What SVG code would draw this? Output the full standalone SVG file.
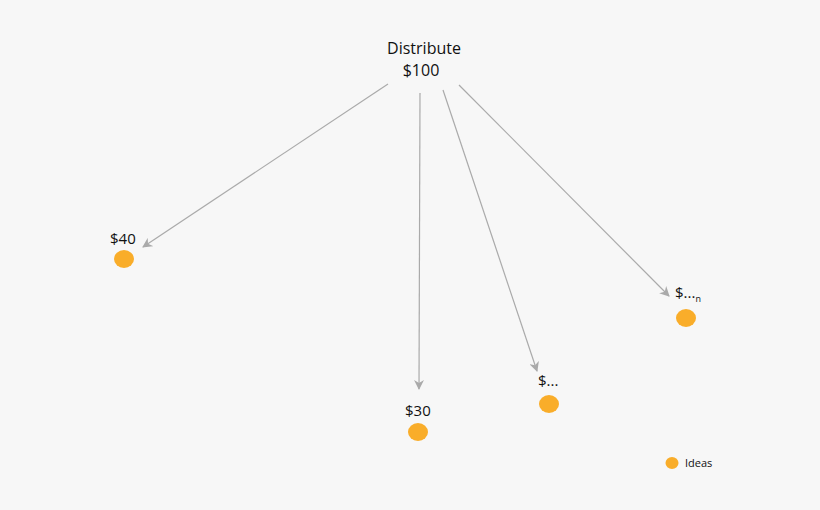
<svg xmlns="http://www.w3.org/2000/svg" width="820" height="510" viewBox="0 0 820 510">
<defs>
<style>
.t{font-family:"Open Sans","Noto Sans",sans-serif;fill:#111;}
.lbl{font-size:15px;}
.dot{fill:#f9ad2a;}
.c line{stroke:#aaa;stroke-width:1.2;fill:none;}
</style>
<marker id="ah" viewBox="0 0 10 10" refX="9" refY="5" markerWidth="10" markerHeight="10" markerUnits="userSpaceOnUse" orient="auto">
<path d="M0,0 L10,5 L0,10 L3,5 Z" fill="#aaa"/>
</marker>
</defs>
<rect width="820" height="510" fill="#f7f7f7"/>
<g id="root">
<text class="t" x="424" y="54" font-size="16" text-anchor="middle">Distribute</text>
<text class="t" x="421" y="76" font-size="16" text-anchor="middle">$100</text>
</g>
<g class="c" id="connectors">
<line x1="388" y1="84" x2="143" y2="247" marker-end="url(#ah)"/>
<line x1="420" y1="93" x2="419" y2="389" marker-end="url(#ah)"/>
<line x1="443" y1="90" x2="537" y2="371" marker-end="url(#ah)"/>
<line x1="459" y1="85" x2="669" y2="296" marker-end="url(#ah)"/>
</g>
<g id="n40">
<text class="t lbl" x="110" y="244">$40</text>
<ellipse class="dot" cx="124" cy="259" rx="10" ry="9"/>
</g>
<g id="n30">
<text class="t lbl" x="405" y="416">$30</text>
<ellipse class="dot" cx="418" cy="432" rx="10" ry="9"/>
</g>
<g id="ndots">
<text class="t lbl" x="538" y="386">$...</text>
<ellipse class="dot" cx="549" cy="404" rx="10" ry="9"/>
</g>
<g id="nn">
<text class="t lbl" x="675" y="298">$...<tspan font-size="9" dy="4">n</tspan></text>
<ellipse class="dot" cx="686" cy="318" rx="10" ry="9"/>
</g>
<g id="legend">
<ellipse class="dot" cx="672" cy="463" rx="6.5" ry="6"/>
<text class="t" x="685" y="467" font-size="11">Ideas</text>
</g>
</svg>
